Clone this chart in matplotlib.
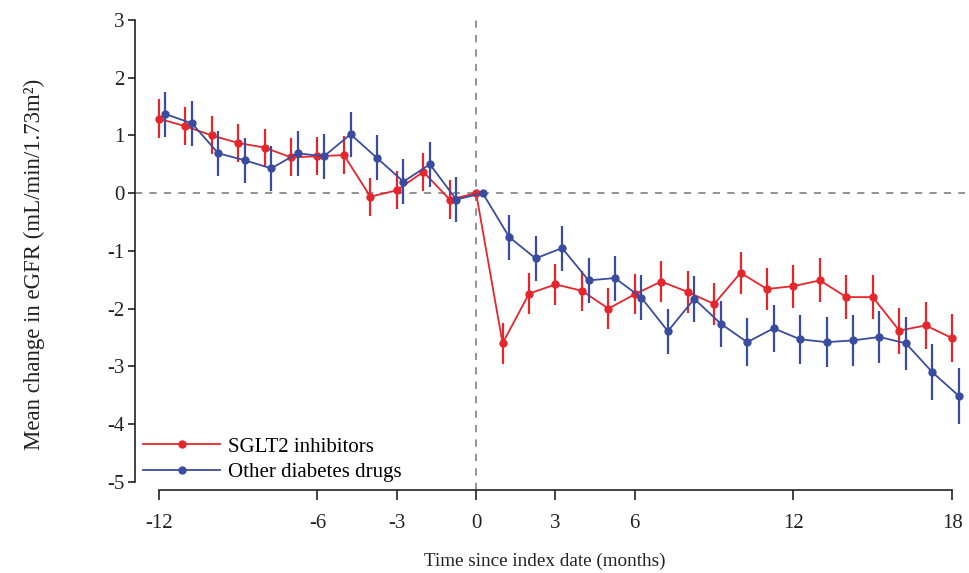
import matplotlib
matplotlib.use("Agg")
import matplotlib.pyplot as plt
import numpy as np

plt.rcParams['font.family'] = ['Liberation Serif', 'DejaVu Serif']

months_sglt2 = [-12, -11, -10, -9, -8, -7, -6, -5, -4, -3, -2, -1, 0,
                1, 2, 3, 4, 5, 6, 7, 8, 9, 10, 11, 12, 13, 14, 15, 16, 17, 18]
sglt2_mean = [1.29, 1.16, 1.00, 0.87, 0.79, 0.62, 0.64, 0.66, -0.06, 0.05, 0.37, -0.11, 0.00,
              -2.60, -1.74, -1.58, -1.69, -2.00, -1.75, -1.53, -1.71, -1.92, -1.38, -1.66,
              -1.61, -1.51, -1.80, -1.80, -2.38, -2.29, -2.51]
sglt2_err = [0.34, 0.33, 0.33, 0.33, 0.33, 0.33, 0.33, 0.33, 0.33, 0.33, 0.33, 0.33, 0.05,
             0.35, 0.35, 0.35, 0.35, 0.35, 0.35, 0.36, 0.36, 0.36, 0.37, 0.37,
             0.37, 0.38, 0.38, 0.38, 0.40, 0.40, 0.41]

months_other = [-11.75, -10.75, -9.75, -8.75, -7.75, -6.75, -5.75, -4.75, -3.75, -2.75, -1.75, -0.75, 0.25,
                1.25, 2.25, 3.25, 4.25, 5.25, 6.25, 7.25, 8.25, 9.25, 10.25, 11.25, 12.25, 13.25,
                14.25, 15.25, 16.25, 17.25, 18.25]
other_mean = [1.37, 1.21, 0.69, 0.57, 0.43, 0.69, 0.64, 1.02, 0.61, 0.20, 0.50, -0.11, 0.00,
              -0.76, -1.13, -0.95, -1.51, -1.47, -1.81, -2.39, -1.83, -2.26, -2.58, -2.34,
              -2.53, -2.58, -2.55, -2.49, -2.60, -3.10, -3.51]
other_err = [0.39, 0.39, 0.39, 0.39, 0.39, 0.39, 0.39, 0.39, 0.39, 0.39, 0.39, 0.39, 0.05,
             0.39, 0.39, 0.39, 0.39, 0.39, 0.39, 0.39, 0.40, 0.40, 0.41, 0.41,
             0.42, 0.43, 0.44, 0.45, 0.46, 0.49, 0.49]

x_ticks = [-12, -6, -3, 0, 3, 6, 12, 18]
y_ticks = [3, 2, 1, 0, -1, -2, -3, -4, -5]

red = '#e5262c'
blue = '#3a4c9f'

fig = plt.figure(figsize=(9.7, 5.73), dpi=100)
ax = fig.add_axes([0.1392, 0.1449, 0.8560, 0.8253])

ax.axhline(0, color='#8a8a8a', lw=1.3, ls=(0, (4, 4)), zorder=1)
ax.axvline(0, color='#8a8a8a', lw=1.3, ls=(0, (4, 4)), zorder=1)

ax.errorbar(months_sglt2, sglt2_mean, yerr=sglt2_err, color=red, ecolor=red,
            lw=1.3, elinewidth=1.6, marker='o', ms=5, capsize=0,
            label='SGLT2 inhibitors', zorder=3)
ax.errorbar(months_other, other_mean, yerr=other_err, color=blue, ecolor=blue,
            lw=1.3, elinewidth=1.6, marker='o', ms=5, capsize=0,
            label='Other diabetes drugs', zorder=4)

ax.set_xlim(-12.9, 18.5)
ax.set_ylim(-5.14, 3.05)
ax.set_xticks(x_ticks)
ax.set_xticklabels([str(t) for t in x_ticks])
ax.set_yticks(y_ticks)
ax.set_yticklabels([str(t) for t in y_ticks])

for s in ['top', 'right']:
    ax.spines[s].set_visible(False)
ax.spines['left'].set_bounds(-5, 3)
ax.spines['bottom'].set_bounds(-12, 18)
for s in ['left', 'bottom']:
    ax.spines[s].set_linewidth(1.2)
    ax.spines[s].set_color('#222222')

ax.tick_params(axis='x', direction='out', length=7, width=1.2, labelsize=15,
               colors='#222222', pad=10)
ax.tick_params(axis='y', direction='out', length=5, width=1.2, labelsize=15,
               colors='#222222', pad=2.5)

ax.set_xlabel('Time since index date (months)', fontsize=13.8, color='#222222')
ax.set_ylabel('Mean change in eGFR (mL/min/1.73m²)', fontsize=16.5, color='#222222')
ax.xaxis.set_label_coords(0.493, -0.133)
ax.yaxis.set_label_coords(-0.108, 0.476)

handles, labels = ax.get_legend_handles_labels()
leg = fig.legend([h[0] for h in handles], labels, loc='upper left', frameon=False,
                 fontsize=15, handlelength=3.7, handletextpad=0.4, labelspacing=0.3,
                 borderpad=0, borderaxespad=0,
                 bbox_to_anchor=(143 / 970, 1 - 437 / 573), bbox_transform=fig.transFigure)

fig.savefig('out.png', dpi=100)
